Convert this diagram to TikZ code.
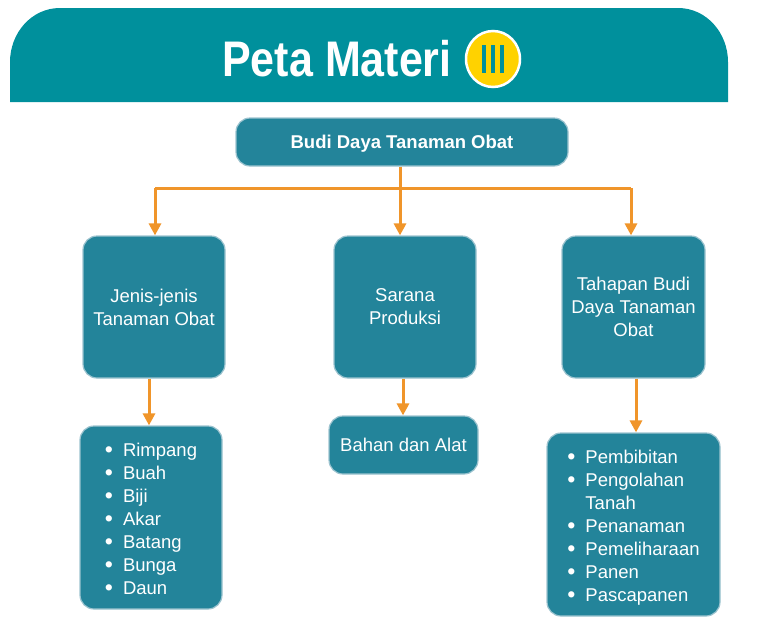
\documentclass[tikz,border=0pt]{standalone}
\usepackage{fontspec}
\setmainfont{Liberation Sans}
\usetikzlibrary{arrows.meta,shapes.geometric}
\definecolor{headteal}{HTML}{00909C}
\definecolor{boxteal}{HTML}{23849A}
\definecolor{boxline}{HTML}{9CC3CF}
\definecolor{arrorange}{HTML}{F0952A}
\definecolor{titleyellow}{HTML}{FFD200}
\tikzset{
  box/.style={draw=boxline, line width=1.2pt, fill=boxteal, rounded corners=14pt,
    text=white, align=center, inner sep=0pt,
    font=\fontsize{18.5}{23}\selectfont},
  lowtext/.style={text depth=0pt},
  conn/.style={draw=arrorange, line width=3pt},
  arr/.style={conn, -{Triangle[length=12pt,width=12pt]}},
}
\newcommand{\blist}[1]{\raisebox{-3pt}[\height][\depth]{\begin{tabular}{@{}c@{\hspace{10pt}}l@{}}#1\end{tabular}}}
\newcommand{\bul}{\raisebox{-1.5pt}{\scalebox{1.25}{\textbullet}}}
\begin{document}
\begin{tikzpicture}[x=1pt,y=-1pt]
\useasboundingbox (0,0) rectangle (771,622);
% header
\fill[headteal] (10,102) -- (10,62) to[out=90,in=180] (60,8) -- (678,8) to[out=0,in=90] (728,62) -- (728,102) -- cycle;
\node[text=white, font=\fontsize{50}{50}\bfseries\selectfont, inner sep=0pt] (title) at (337,59) {\scalebox{0.86}[1]{Peta Materi}};
\node[draw=white, line width=2.5pt, fill=titleyellow, ellipse, minimum width=54pt, minimum height=56pt, inner sep=0pt] (badge) at (493,59) {};
\foreach \bx in {484,493,502}{
  \fill[headteal] (\bx-1.7,45) rectangle (\bx+1.7,73);
}
% nodes
\node[box, lowtext, minimum width=332pt, minimum height=48pt, font=\fontsize{18.5}{23}\bfseries\selectfont] (top) at (402,142) {Budi Daya Tanaman Obat};
\node[box, lowtext, minimum width=142pt, minimum height=142pt] (jenis) at (154,307) {Jenis-jenis\\Tanaman Obat};
\node[box, lowtext, minimum width=142pt, minimum height=142pt] (sarana) at (405,307) {Sarana\\Produksi};
\node[box, lowtext, minimum width=143pt, minimum height=142pt] (tahapan) at (633.5,307) {Tahapan Budi\\Daya Tanaman\\Obat};
\node[box, minimum width=142pt, minimum height=183pt] (list1) at (151,517.5) {\blist{\bul & Rimpang\\ \bul & Buah\\ \bul & Biji\\ \bul & Akar\\ \bul & Batang\\ \bul & Bunga\\ \bul & Daun}};
\node[box, lowtext, minimum width=149pt, minimum height=58pt] (bahan) at (403.5,445) {Bahan dan Alat};
\node[box, minimum width=173pt, minimum height=183pt] (list3) at (633.5,524.5) {\blist{\bul & Pembibitan\\ \bul & Pengolahan\\ & Tanah\\ \bul & Penanaman\\ \bul & Pemeliharaan\\ \bul & Panen\\ \bul & Pascapanen}};
% connectors
\coordinate (bus) at (400,188);
\coordinate (busL) at (155,188);
\coordinate (busR) at (631,188);
\draw[conn] (top.south -| bus) -- (bus);
\draw[conn] (busL) -- (busR);
\draw[arr] (busL) -- (busL |- jenis.north);
\draw[arr] (bus) -- (bus |- sarana.north);
\draw[arr] (busR) -- (busR |- tahapan.north);
\coordinate (d1) at (149,0);
\coordinate (d2) at (403,0);
\coordinate (d3) at (636,0);
\draw[arr] (d1 |- jenis.south) -- (d1 |- list1.north);
\draw[arr] (d2 |- sarana.south) -- (d2 |- bahan.north);
\draw[arr] (d3 |- tahapan.south) -- (d3 |- list3.north);
\end{tikzpicture}
\end{document}
